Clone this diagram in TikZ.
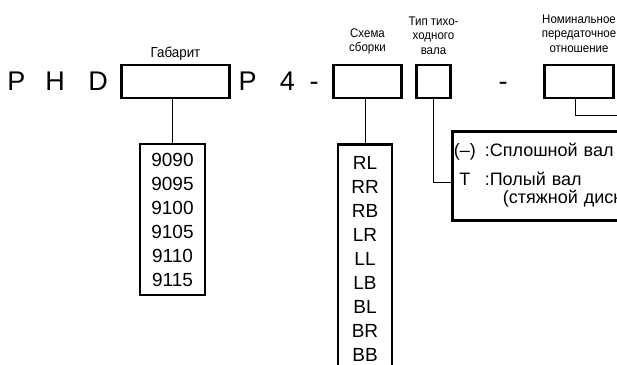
\documentclass[tikz,border=0pt]{standalone}
\usepackage{fontspec}
\setmainfont{Liberation Sans}
\newfontfamily\narrowsf[FakeStretch=0.92]{Liberation Sans}
\usetikzlibrary{positioning}

\begin{document}
\begin{tikzpicture}[x=1pt, y=-1pt,
    pole/.style={draw, line width=2.6pt, minimum height=33pt, inner sep=0pt},
    spisok/.style={draw, line width=2.6pt, inner xsep=0pt, align=center, font=\fontsize{19}{24}\selectfont},
    bukva/.style={anchor=base, inner sep=0pt, font=\fontsize{27}{27}\selectfont},
    podpis/.style={align=center, inner sep=0pt, font=\narrowsf\fontsize{12.5}{14.5}\selectfont},
    svyaz/.style={line width=1pt}]
    \useasboundingbox (0,0) rectangle (617,364);
    \clip (0,0) rectangle (617,364);
    \node[bukva] (p1) at (16.5,90) {P};
    \node[bukva] (h1) at (55,90) {H};
    \node[bukva] (d1) at (98,90) {D};
    \node[pole, minimum width=108] (gab) at (175.5,81.5) {};
    \node[bukva] (p2) at (247.5,90) {P};
    \node[bukva] (n4) at (287.5,90) {4};
    \node[bukva] (tire1) at (314,90) {-};
    \node[pole, minimum width=68] (sch) at (367.5,81.5) {};
    \node[pole, minimum width=34] (tip) at (433.5,81.5) {};
    \node[bukva] (tire2) at (503,90) {-};
    \node[pole, minimum width=69] (nom) at (579,81.5) {};
    \node[podpis, above=3pt of gab, font=\narrowsf\fontsize{14.5}{14.5}\selectfont] (gabt) {Габарит};
    \node[podpis, above=9pt of sch] (scht) {Схема\\сборки};
    \node[podpis, above=9pt of tip] (tipt) {Тип тихо-\\ходного\\вала};
    \node[podpis, above=11pt of nom] (nomt) {Номинальное\\передаточное\\отношение};
    \node[spisok, minimum width=65, minimum height=151] (gabl) at (172.5,219.5)
        {9090\\9095\\9100\\9105\\9110\\9115};
    \node[spisok, minimum width=54, anchor=north, inner ysep=12pt] (schl) at (365,143)
        {RL\\RR\\RB\\LR\\LL\\LB\\BL\\BR\\BB};
    \node[draw, line width=2.6pt, anchor=north west, inner xsep=1.5pt, inner ysep=12pt,
          text width=250pt, align=left, font=\fontsize{18}{16}\selectfont] (leg) at (451,130)
        {\begin{tabular}[t]{@{}c@{\hspace{9pt}}l@{}}
            (–) & :Сплошной вал\\[11pt]
            T & :Полый вал\\
              & \hspace{18pt}(стяжной диск)
        \end{tabular}};
    \coordinate (nomk) at (640,115);
    \draw[svyaz] (gab.south -| gabl.north) -- (gabl.north);
    \draw[svyaz] (sch.south -| schl.north) -- (schl.north);
    \draw[svyaz] (tip.south) |- ([yshift=-6pt]leg.west);
    \draw[svyaz] ([xshift=-4pt]nom.south) |- (nomk);
\end{tikzpicture}
\end{document}
